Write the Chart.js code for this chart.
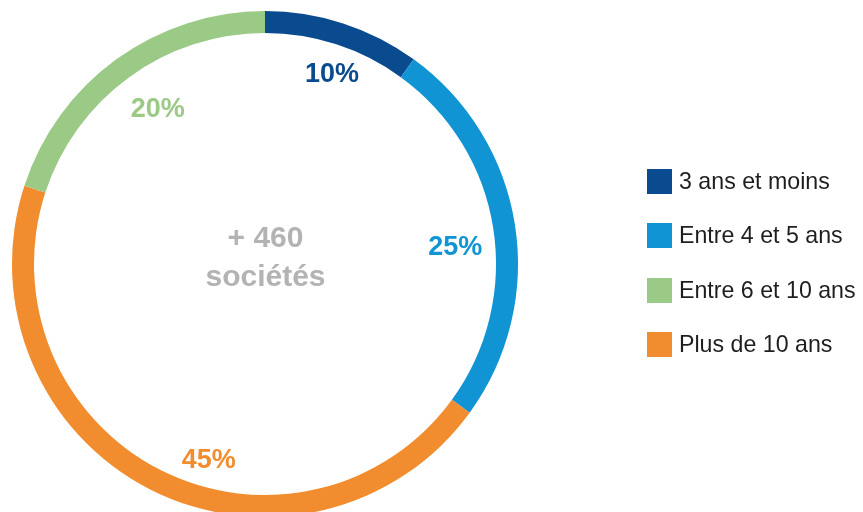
<!DOCTYPE html>
<html>
<head>
<meta charset="utf-8">
<script src="https://cdn.jsdelivr.net/npm/chart.js@4/dist/chart.umd.min.js"></script>
<style>
  html, body { margin: 0; padding: 0; background: #ffffff; overflow: hidden; width: 863px; height: 512px; }
  #wrap { position: relative; width: 863px; height: 530px; }
  #c { position: absolute; left: 0; top: 0; }
  .lg { position: absolute; left: 647px; display: flex; align-items: center; font-family: "Liberation Sans", Arial, sans-serif; font-size: 23.2px; color: #1e1e1e; white-space: nowrap; }
  .lg .sw { width: 25px; height: 25px; margin-right: 7px; flex: none; }
</style>
</head>
<body>
<div id="wrap">
  <canvas id="c" width="863" height="530"></canvas>
</div>
<script>
// ---- data (slice order, clockwise from top) ----
const categories = ['3 ans et moins', 'Entre 4 et 5 ans', 'Plus de 10 ans', 'Entre 6 et 10 ans'];
const shares = [10, 25, 45, 20];
const valueLabels = ['10%', '25%', '45%', '20%'];
const legendOrder = [0, 1, 3, 2];
const centerLines = ['+ 460', 'sociétés'];

// ---- style ----
const colors = ['#0A4A8E', '#1194D4', '#F28D2F', '#9BC986'];
const labelPolar = [ // [angle shift deg, radius px]
  [1.5, 201], [4, 191], [-11, 204], [1.2, 188]
];

const pctPlugin = {
  id: 'pctLabels',
  afterDatasetsDraw(chart) {
    const ctx = chart.ctx;
    const meta = chart.getDatasetMeta(0);
    ctx.save();
    ctx.textAlign = 'center';
    ctx.textBaseline = 'middle';
    ctx.font = 'bold 27px "Liberation Sans", Arial, sans-serif';
    meta.data.forEach((arc, i) => {
      const p = arc.getProps(['x', 'y', 'startAngle', 'endAngle'], true);
      const mid = (p.startAngle + p.endAngle) / 2 + labelPolar[i][0] * Math.PI / 180;
      const r = labelPolar[i][1];
      ctx.fillStyle = colors[i];
      ctx.fillText(valueLabels[i], p.x + Math.cos(mid) * r, p.y + Math.sin(mid) * r);
    });
    // center text
    const a0 = meta.data[0];
    ctx.fillStyle = '#B3B3B3';
    ctx.font = 'bold 30px "Liberation Sans", Arial, sans-serif';
    ctx.textBaseline = 'alphabetic';
    ctx.fillText(centerLines[0], a0.x + 0.5, a0.y - 17);
    ctx.fillText(centerLines[1], a0.x + 0.5, a0.y + 22);
    ctx.restore();
  }
};

new Chart(document.getElementById('c'), {
  type: 'doughnut',
  data: {
    labels: categories,
    datasets: [{
      data: shares,
      backgroundColor: colors,
      borderWidth: 0,
      hoverOffset: 0,
      offset: 0
    }]
  },
  options: {
    responsive: false,
    animation: false,
    events: [],
    cutout: '91.3%',
    layout: { padding: { left: 12, right: 345, top: 11, bottom: 13 } },
    plugins: {
      legend: { display: false },
      tooltip: { enabled: false }
    }
  },
  plugins: [pctPlugin]
});

// ---- HTML legend built from the arrays ----
const wrap = document.getElementById('wrap');
legendOrder.forEach((idx, row) => {
  const d = document.createElement('div');
  d.className = 'lg';
  d.style.top = (169 + row * 54.3 - 1) + 'px';
  d.style.height = '27px';
  const sw = document.createElement('span');
  sw.className = 'sw';
  sw.style.background = colors[idx];
  const t = document.createElement('span');
  t.textContent = categories[idx];
  d.appendChild(sw);
  d.appendChild(t);
  wrap.appendChild(d);
});
</script>
</body>
</html>
